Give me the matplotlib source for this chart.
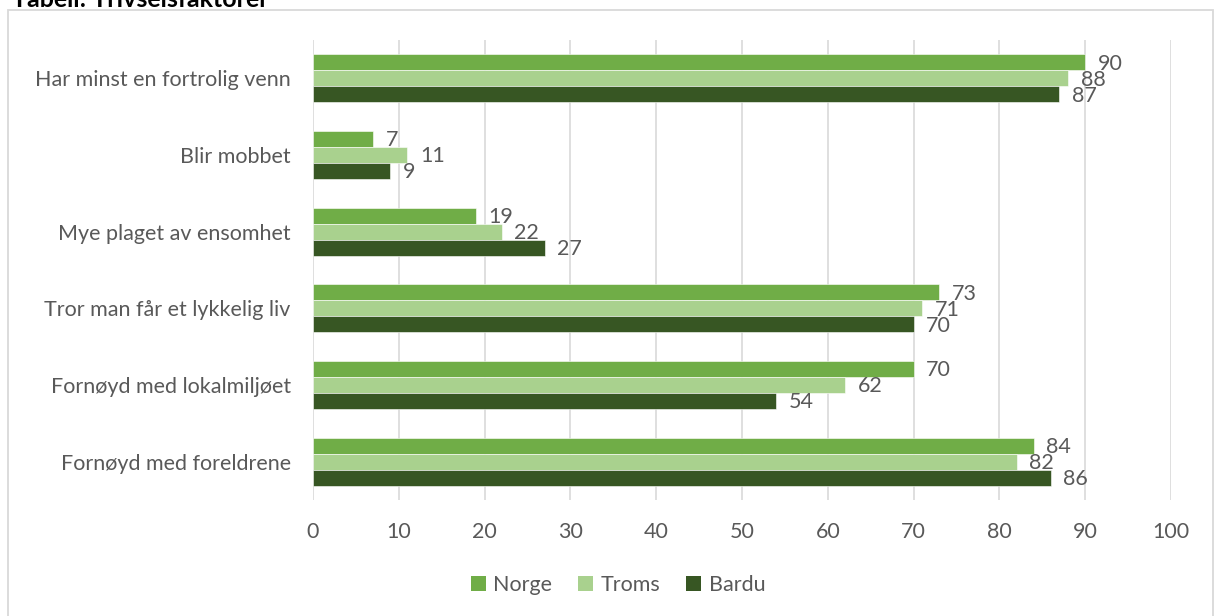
import matplotlib
matplotlib.use('Agg')
import matplotlib.pyplot as plt
import numpy as np
from matplotlib.patches import Rectangle, Patch

# data (top to bottom as in the chart)
categories = [
    "Har minst en fortrolig venn",
    "Blir mobbet",
    "Mye plaget av ensomhet",
    "Tror man får et lykkelig liv",
    "Fornøyd med lokalmiljøet",
    "Fornøyd med foreldrene",
]
norge = [90, 7, 19, 73, 70, 84]
troms = [88, 11, 22, 71, 62, 82]
bardu = [87, 9, 27, 70, 54, 86]

series_names = ["Norge", "Troms", "Bardu"]
colors = ["#70AD47", "#A9D18E", "#375623"]
TXT = "#595959"
FS = 15.5

plt.rcParams['font.family'] = ['Lato', 'DejaVu Sans']

fig = plt.figure(figsize=(12.14, 6.16), dpi=100)
fig.patch.set_facecolor("white")

# outer frame (bottom edge is outside the picture)
fig.patches.append(Rectangle((8 / 1214, -0.05), 1205 / 1214, 1.05 - 10 / 616,
                             transform=fig.transFigure, fill=False,
                             edgecolor="#D9D9D9", linewidth=1.3, clip_on=False))

# title, cut off at the top edge like in the source
fig.text(12 / 1214, 1 - 7 / 616, "Tabell: Trivselsfaktorer", fontsize=18,
         fontweight='bold', color="#000000", va='baseline', ha='left')

ax = fig.add_axes([313 / 1214, 1 - 500 / 616, 858 / 1214, 460 / 616])

y = np.arange(len(categories))
h = 0.208
offsets = [-h, 0, h]
for vals, name, col, off in zip([norge, troms, bardu], series_names, colors, offsets):
    bars = ax.barh(y + off, vals, height=h, color=col, edgecolor="white",
                   linewidth=0.4, label=name, zorder=3)
    for b, v in zip(bars, vals):
        ax.annotate(str(v), (v, b.get_y() + b.get_height() / 2),
                    xytext=(9, -1), textcoords='offset points',
                    ha='left', va='center', fontsize=FS, color=TXT, zorder=4)

ax.set_xlim(0, 100)
ax.set_ylim(len(categories) - 0.5, -0.5)
ax.set_xticks(range(0, 101, 10))
ax.set_yticks(y)
ax.set_yticklabels(categories)
ax.tick_params(axis='both', length=0, labelsize=FS, labelcolor=TXT)
ax.tick_params(axis='x', pad=16)
ax.tick_params(axis='y', pad=16)
ax.grid(axis='x', color="#D9D9D9", linewidth=1.2, zorder=0)
ax.set_axisbelow(True)
for s in ax.spines.values():
    s.set_visible(False)

handles = [Patch(facecolor=c, label=n) for c, n in zip(colors, series_names)]
fig.legend(handles=handles, loc='center', bbox_to_anchor=(618 / 1214, 1 - 585 / 616),
           ncol=3, frameon=False, fontsize=FS, labelcolor=TXT,
           handlelength=0.7, handleheight=0.7, handletextpad=0.35, columnspacing=1.2)

fig.savefig("out.png", dpi=100, facecolor=fig.get_facecolor())
